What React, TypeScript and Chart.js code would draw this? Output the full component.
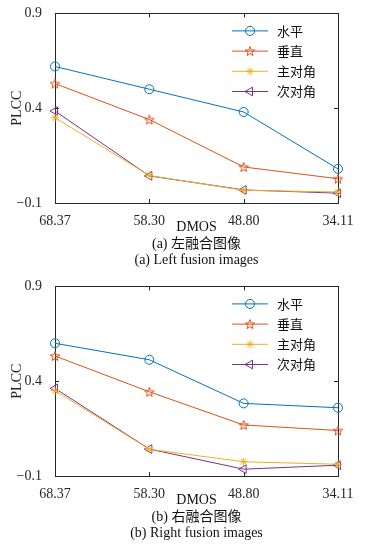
import React, { useEffect, useRef } from 'react';
import { Chart, registerables } from 'chart.js';

Chart.register(...registerables);

// ---------- data ----------
const categories = ['68.37', '58.30', '48.80', '34.11'];
const seriesNames = ['水平', '垂直', '主对角', '次对角'];

const leftHorizontal = [0.62, 0.5, 0.38, 0.08];
const leftVertical = [0.53, 0.34, 0.09, 0.028];
const leftMainDiag = [0.35, 0.045, -0.033, -0.042];
const leftAntiDiag = [0.385, 0.043, -0.031, -0.048];

const rightHorizontal = [0.6, 0.513, 0.283, 0.26];
const rightVertical = [0.533, 0.344, 0.169, 0.14];
const rightMainDiag = [0.35, 0.041, -0.025, -0.038];
const rightAntiDiag = [0.362, 0.042, -0.064, -0.043];

const yTickValues = [-0.1, 0.4, 0.9];
const xTitle = 'DMOS';
const yTitle = 'PLCC';
const captionsLeft = ['(a) 左融合图像', '(a) Left fusion images'];
const captionsRight = ['(b) 右融合图像', '(b) Right fusion images'];

// ---------- styles ----------
const COLORS = ['#0072BD', '#D95319', '#EDB120', '#7E2F8E'];
const MARKERS = ['circle', 'pentagram', 'asterisk', 'triangleLeft'];
const SERIF = "'Liberation Serif', 'DejaVu Serif', serif";
const CJK = "'Liberation Serif', 'Noto Sans CJK SC', serif";
const AXIS_COLOR = '#262626';

function makePentagram(color: string, r: number) {
  const size = Math.ceil(r * 2 + 4);
  const c = document.createElement('canvas');
  c.width = size;
  c.height = size;
  const ctx = c.getContext('2d')!;
  const cx = size / 2;
  const cy = size / 2 + 0.5;
  ctx.beginPath();
  for (let i = 0; i < 10; i++) {
    const ang = -Math.PI / 2 + (i * Math.PI) / 5;
    const rr = i % 2 === 0 ? r : r * 0.4;
    const x = cx + rr * Math.cos(ang);
    const y = cy + rr * Math.sin(ang);
    if (i === 0) ctx.moveTo(x, y);
    else ctx.lineTo(x, y);
  }
  ctx.closePath();
  ctx.strokeStyle = color;
  ctx.lineWidth = 1;
  ctx.stroke();
  return c;
}

function drawMarker(ctx: CanvasRenderingContext2D, kind: string, x: number, y: number, color: string, star: HTMLCanvasElement) {
  ctx.save();
  ctx.strokeStyle = color;
  ctx.lineWidth = 1;
  ctx.beginPath();
  if (kind === 'circle') {
    ctx.arc(x, y, 4.5, 0, Math.PI * 2);
    ctx.stroke();
  } else if (kind === 'pentagram') {
    ctx.drawImage(star, x - star.width / 2, y - star.height / 2);
  } else if (kind === 'asterisk') {
    const r = 4;
    const d = r * Math.SQRT1_2;
    ctx.moveTo(x - r, y); ctx.lineTo(x + r, y);
    ctx.moveTo(x, y - r); ctx.lineTo(x, y + r);
    ctx.moveTo(x - d, y - d); ctx.lineTo(x + d, y + d);
    ctx.moveTo(x - d, y + d); ctx.lineTo(x + d, y - d);
    ctx.stroke();
  } else {
    const r = 5;
    let rad = -Math.PI / 2;
    ctx.moveTo(x + Math.sin(rad) * r, y - Math.cos(rad) * r);
    rad += (2 * Math.PI) / 3;
    ctx.lineTo(x + Math.sin(rad) * r, y - Math.cos(rad) * r);
    rad += (2 * Math.PI) / 3;
    ctx.lineTo(x + Math.sin(rad) * r, y - Math.cos(rad) * r);
    ctx.closePath();
    ctx.stroke();
  }
  ctx.restore();
}

const decorPlugin = {
  id: 'decor',
  beforeDatasetsDraw(chart: any) {
    const { ctx, chartArea } = chart;
    const { left, right, top, bottom } = chartArea;
    const xs = chart.scales.x;
    const ys = chart.scales.y;
    ctx.save();
    ctx.strokeStyle = AXIS_COLOR;
    ctx.lineWidth = 1;
    ctx.strokeRect(Math.round(left) + 0.5, Math.round(top) + 0.5, Math.round(right - left), Math.round(bottom - top));
    const tl = 4;
    ctx.beginPath();
    xs.ticks.forEach((_: any, i: number) => {
      const px = Math.round(xs.getPixelForTick(i)) + 0.5;
      ctx.moveTo(px, bottom); ctx.lineTo(px, bottom - tl);
      ctx.moveTo(px, top); ctx.lineTo(px, top + tl);
    });
    ys.ticks.forEach((_: any, i: number) => {
      const py = Math.round(ys.getPixelForTick(i)) + 0.5;
      ctx.moveTo(left, py); ctx.lineTo(left + tl, py);
      ctx.moveTo(right, py); ctx.lineTo(right - tl, py);
    });
    ctx.stroke();
    ctx.restore();
  },
  afterDraw(chart: any, _args: any, opts: any) {
    const { ctx, chartArea } = chart;
    const cx = (chartArea.left + chartArea.right) / 2;
    ctx.save();
    ctx.fillStyle = '#111';
    ctx.textAlign = 'center';
    ctx.textBaseline = 'middle';
    ctx.font = `14px ${SERIF}`;
    ctx.fillText(xTitle, cx, chartArea.bottom + 24.5);
    ctx.font = `14px ${CJK}`;
    ctx.fillText(opts.captions[0], cx, chartArea.bottom + 41);
    ctx.font = `14px ${SERIF}`;
    ctx.fillText(opts.captions[1], cx, chartArea.bottom + 57);

    // legend
    ctx.textAlign = 'left';
    ctx.font = `13px 'Noto Sans CJK SC', sans-serif`;
    chart.data.datasets.forEach((ds: any, i: number) => {
      const y = chartArea.top + 17.5 + i * 20.2;
      ctx.strokeStyle = ds.borderColor;
      ctx.lineWidth = 1;
      ctx.beginPath();
      ctx.moveTo(232, y);
      ctx.lineTo(268, y);
      ctx.stroke();
      drawMarker(ctx, MARKERS[i], 250, y, ds.borderColor, opts.star);
      ctx.fillStyle = '#111';
      ctx.fillText(ds.label, 277, y);
    });
    ctx.restore();
  },
};

function buildChart(canvas: HTMLCanvasElement, series: number[][], captions: string[]) {
  const star = makePentagram(COLORS[1], 5);
  const pointStyles: any[] = ['circle', star, 'star', 'triangle'];
  const rotations = [0, 0, 0, -90];
  const radii = [4.5, 5, 4, 5];
  return new Chart(canvas, {
    type: 'line',
    data: {
      labels: categories,
      datasets: series.map((values, i) => ({
        label: seriesNames[i],
        data: values,
        borderColor: COLORS[i],
        backgroundColor: COLORS[i],
        borderWidth: 1,
        pointStyle: pointStyles[i],
        pointRotation: rotations[i],
        pointRadius: radii[i],
        pointBorderWidth: 1,
        pointBorderColor: COLORS[i],
        pointBackgroundColor: 'rgba(0,0,0,0)',
        tension: 0,
        fill: false,
      })),
    },
    plugins: [decorPlugin],
    options: {
      responsive: false,
      animation: false,
      devicePixelRatio: 1,
      layout: { padding: { top: 10, right: 27, left: 0, bottom: 0 } },
      plugins: {
        legend: { display: false },
        tooltip: { enabled: false },
        decor: { captions, star },
      } as any,
      scales: {
        x: {
          type: 'category',
          offset: false,
          grid: { display: false },
          border: { display: false },
          ticks: {
            font: { family: SERIF, size: 14 },
            color: AXIS_COLOR,
            padding: 2,
            maxRotation: 0,
            autoSkip: false,
          },
          afterFit: (scale: any) => {
            scale.height = 72;
          },
        },
        y: {
          min: -0.1,
          max: 0.9,
          grid: { display: false },
          border: { display: false },
          afterBuildTicks: (scale: any) => {
            scale.ticks = yTickValues.map((v) => ({ value: v }));
          },
          ticks: {
            font: { family: SERIF, size: 14 },
            color: AXIS_COLOR,
            padding: 5,
            callback: (v: any) => {
              const n = Number(v);
              return n < 0 ? '\u2212' + Math.abs(n).toFixed(1) : n.toFixed(1);
            },
          },
          title: {
            display: true,
            text: yTitle,
            font: { family: SERIF, size: 14 },
            color: AXIS_COLOR,
            padding: { top: 8.5, bottom: 0 },
          },
          afterFit: (scale: any) => {
            scale.width = 55;
          },
        },
      },
    },
  } as any);
}

function Panel({ series, captions, top }: { series: number[][]; captions: string[]; top: number }) {
  const ref = useRef<HTMLCanvasElement>(null);
  useEffect(() => {
    if (!ref.current) return;
    const chart = buildChart(ref.current, series, captions);
    return () => chart.destroy();
  }, []);
  return (
    <canvas
      ref={ref}
      width={365}
      height={275}
      style={{ position: 'absolute', left: 0, top, width: 365, height: 275 }}
    />
  );
}

export default function App() {
  return (
    <div style={{ position: 'absolute', left: 0, top: 0, width: 365, height: 550, background: '#ffffff', overflow: 'hidden' }}>
      <Panel series={[leftHorizontal, leftVertical, leftMainDiag, leftAntiDiag]} captions={captionsLeft} top={0} />
      <Panel series={[rightHorizontal, rightVertical, rightMainDiag, rightAntiDiag]} captions={captionsRight} top={273} />
    </div>
  );
}
